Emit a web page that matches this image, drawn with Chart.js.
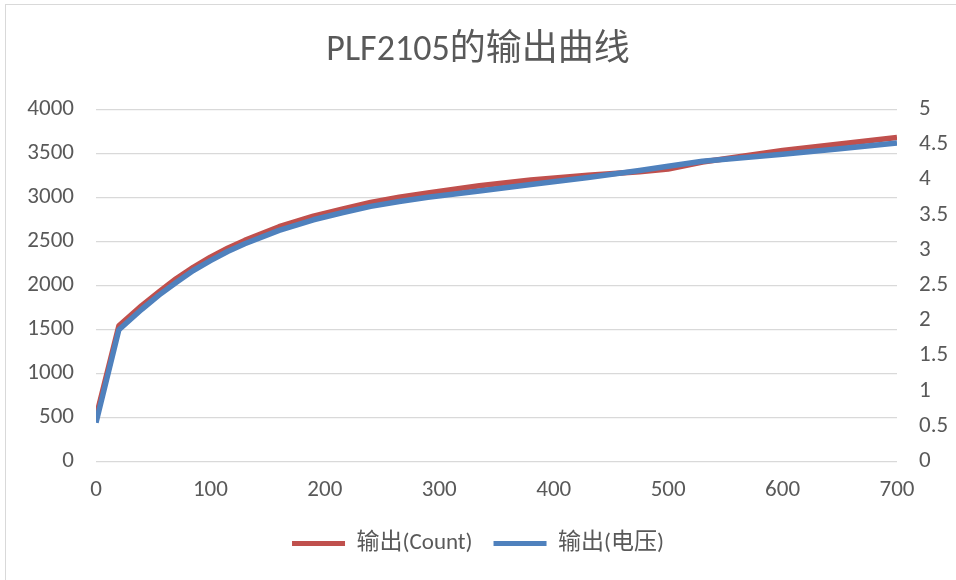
<!DOCTYPE html>
<html>
<head>
<meta charset="utf-8">
<script src="https://cdn.jsdelivr.net/npm/chart.js@4/dist/chart.umd.min.js"></script>
<style>
    body { margin: 0; background: #fff; }
    #wrap { position: relative; width: 956px; height: 580px; overflow: hidden; }
    #frame { position: absolute; left: 5px; top: 4px; width: 1000px; height: 700px; border: 1px solid #d9d9d9; }
    canvas { position: absolute; left: 0; top: 0; }
</style>
</head>
<body>
<div id="wrap">
    <div id="frame"></div>
    <canvas id="outputChart" width="956" height="580"></canvas>
</div>
<script>
const xValues = [0, 20, 40, 55, 70, 85, 100, 115, 130, 160, 190, 215, 240, 265, 290, 335, 380, 430, 475, 500, 530, 600, 650, 700];
const countValues = [500, 1540, 1770, 1925, 2075, 2205, 2320, 2420, 2510, 2665, 2785, 2865, 2940, 3000, 3050, 3130, 3195, 3250, 3290, 3320, 3400, 3530, 3605, 3680];
const voltValues = [0.55, 1.87, 2.16, 2.36, 2.54, 2.71, 2.85, 2.98, 3.09, 3.28, 3.43, 3.53, 3.62, 3.69, 3.75, 3.84, 3.93, 4.03, 4.13, 4.19, 4.26, 4.36, 4.44, 4.52];
const seriesNames = ['输出(Count)', '输出(电压)'];

const textColor = '#595959';
const fontFamily = 'Carlito, Calibri, "Noto Sans CJK SC", sans-serif';
const tickFont = { family: fontFamily, size: 23 };

const ctx = document.getElementById('outputChart').getContext('2d');
new Chart(ctx, {
    type: 'line',
    data: {
        datasets: [{
            label: seriesNames[0],
            data: xValues.map((x, i) => ({ x: x, y: countValues[i] })),
            borderColor: '#C0504D',
            backgroundColor: '#C0504D',
            borderWidth: 5.5,
            pointRadius: 0,
            tension: 0,
            borderJoinStyle: 'round',
            yAxisID: 'y',
            order: 1
        }, {
            label: seriesNames[1],
            data: xValues.map((x, i) => ({ x: x, y: voltValues[i] })),
            borderColor: '#4F81BD',
            backgroundColor: '#4F81BD',
            borderWidth: 5.5,
            pointRadius: 0,
            tension: 0,
            borderJoinStyle: 'round',
            yAxisID: 'y1',
            order: 0
        }]
    },
    options: {
        responsive: false,
        animation: false,
        layout: { padding: { left: 0, right: 0, top: 0, bottom: 15 } },
        plugins: {
            tooltip: { enabled: false },
            title: {
                display: true,
                text: 'PLF2105的输出曲线',
                color: textColor,
                font: { family: fontFamily, size: 36, weight: 'normal' },
                padding: { top: 29, bottom: 37 }
            },
            legend: {
                position: 'bottom',
                labels: {
                    color: textColor,
                    font: { family: fontFamily, size: 23 },
                    boxWidth: 53,
                    boxHeight: 5,
                    padding: 21,
                    sort: (a, b) => a.datasetIndex - b.datasetIndex,
                    generateLabels: (chart) => {
                        const items = Chart.defaults.plugins.legend.labels.generateLabels(chart);
                        items.forEach(item => { item.lineWidth = 0; });
                        return items;
                    }
                }
            }
        },
        scales: {
            x: {
                type: 'linear',
                min: 0,
                max: 700,
                grid: { display: false },
                border: { display: false },
                ticks: {
                    stepSize: 100,
                    color: textColor,
                    font: tickFont,
                    padding: 7,
                    callback: (value) => String(value)
                }
            },
            y: {
                position: 'left',
                min: 0,
                max: 4000,
                grid: { color: '#d9d9d9', lineWidth: 1.3, drawTicks: false },
                border: { display: false },
                ticks: {
                    stepSize: 500,
                    color: textColor,
                    font: tickFont,
                    padding: 22,
                    callback: (value) => String(value)
                },
                afterFit: (scale) => { scale.width = 96; }
            },
            y1: {
                position: 'right',
                min: 0,
                max: 5,
                grid: { display: false, drawTicks: false },
                border: { display: false },
                ticks: {
                    stepSize: 0.5,
                    color: textColor,
                    font: tickFont,
                    padding: 22,
                    callback: (value) => String(value)
                },
                afterFit: (scale) => { scale.width = 59; }
            }
        }
    }
});
</script>
</body>
</html>
